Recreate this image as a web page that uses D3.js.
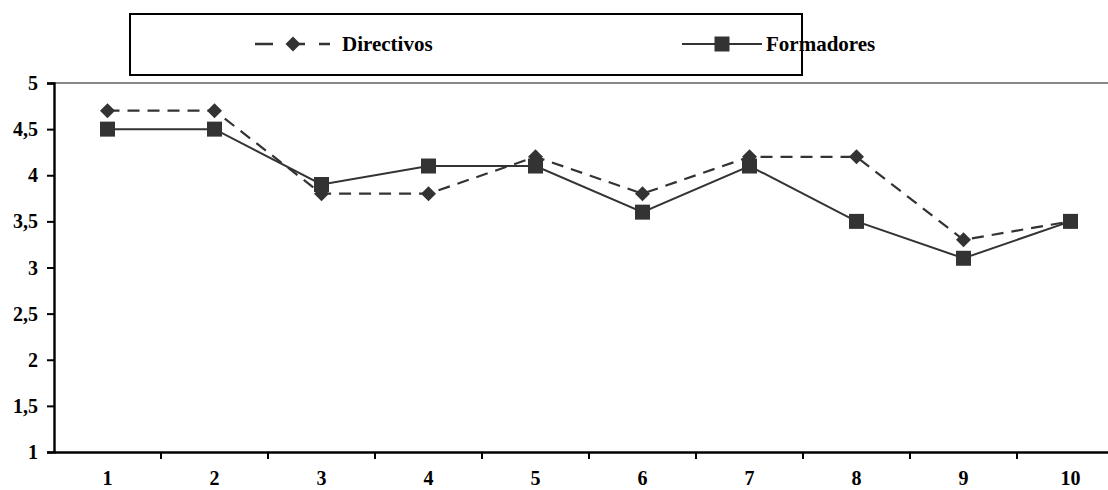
<!DOCTYPE html>
<html><head><meta charset="utf-8">
<script src="https://cdn.jsdelivr.net/npm/d3@7"></script>
<style>body{margin:0;background:#fff}svg{display:block}</style>
</head><body>
<script>
const categories = ["1","2","3","4","5","6","7","8","9","10"];
const directivos = [4.7, 4.7, 3.8, 3.8, 4.2, 3.8, 4.2, 4.2, 3.3, 3.5];
const formadores = [4.5, 4.5, 3.9, 4.1, 4.1, 3.6, 4.1, 3.5, 3.1, 3.5];
const yTicks = [1, 1.5, 2, 2.5, 3, 3.5, 4, 4.5, 5];
const seriesNames = ["Directivos", "Formadores"];

(function () {
const W = 1108, H = 490;
const FF = "'Liberation Serif', 'Times New Roman', serif";
const svg = d3.select("body").append("svg").attr("width", W).attr("height", H);
const pL = 54, pR = 1124, pT = 83, pB = 452;
const x = d3.scaleBand().domain(categories).range([pL, pR]);
const y = d3.scaleLinear().domain([1, 5]).range([pB, pT]);
const col = "#333";
const FS = 20;

svg.append("line").attr("x1", pL).attr("x2", W).attr("y1", pT).attr("y2", pT)
  .attr("stroke", "#888").attr("stroke-width", 2);

const ya = svg.append("g").attr("transform", `translate(${pL},0)`)
  .call(d3.axisLeft(y).tickValues(yTicks).tickSize(7).tickPadding(9)
    .tickFormat(d => String(d).replace(".", ",")));
ya.select(".domain").attr("stroke", "#000").attr("stroke-width", 2.4);
ya.selectAll(".tick line").attr("stroke", "#000").attr("stroke-width", 2);
ya.selectAll("text").style("font-family", FF).style("font-weight", "bold")
  .style("font-size", FS + "px").attr("fill", "#000").attr("dy", "0.33em");

const xa = svg.append("g").attr("transform", `translate(0,${pB})`)
  .call(d3.axisBottom(x).tickSize(0).tickPadding(19));
xa.select(".domain").attr("stroke", "#000").attr("stroke-width", 2.4);
xa.selectAll("text").style("font-family", FF).style("font-weight", "bold")
  .style("font-size", FS + "px").attr("fill", "#000");
svg.append("g").selectAll("line").data(categories.slice(1)).join("line")
  .attr("x1", d => x(d)).attr("x2", d => x(d))
  .attr("y1", pB).attr("y2", pB + 7)
  .attr("stroke", "#000").attr("stroke-width", 2);

const cx = d => x(d) + x.bandwidth() / 2;
const line = d3.line().x((d, i) => cx(categories[i])).y(d => y(d));

svg.append("path").datum(formadores).attr("d", line).attr("fill", "none")
  .attr("stroke", col).attr("stroke-width", 2);
svg.append("path").datum(directivos).attr("d", line).attr("fill", "none")
  .attr("stroke", col).attr("stroke-width", 2.2).attr("stroke-dasharray", "12,8");

const sq = d3.symbol().type(d3.symbolSquare).size(225);
const dm = d3.symbol().type(d3.symbolSquare).size(112);
svg.append("g").selectAll("path").data(formadores).join("path")
  .attr("d", sq).attr("fill", col)
  .attr("transform", (d, i) => `translate(${cx(categories[i])},${y(d)})`);
svg.append("g").selectAll("path").data(directivos).join("path")
  .attr("d", dm).attr("fill", col)
  .attr("transform", (d, i) => `translate(${cx(categories[i])},${y(d)}) rotate(45)`);

const lg = svg.append("g");
lg.append("rect").attr("x", 130).attr("y", 14).attr("width", 672).attr("height", 61)
  .attr("fill", "#fff").attr("stroke", "#000").attr("stroke-width", 2);
const ly = 44;
lg.append("line").attr("x1", 255).attr("x2", 330).attr("y1", ly).attr("y2", ly)
  .attr("stroke", col).attr("stroke-width", 2.4).attr("stroke-dasharray", "18,14");
lg.append("path").attr("d", dm).attr("fill", col).attr("transform", `translate(293,${ly}) rotate(45)`);
lg.append("text").attr("x", 342).attr("y", ly + 7).text(seriesNames[0])
  .style("font-family", FF).style("font-weight", "bold").style("font-size", "21px");
lg.append("line").attr("x1", 682).attr("x2", 762).attr("y1", ly).attr("y2", ly)
  .attr("stroke", col).attr("stroke-width", 2);
lg.append("path").attr("d", sq).attr("fill", col).attr("transform", `translate(722,${ly})`);
lg.append("text").attr("x", 766).attr("y", ly + 7).text(seriesNames[1])
  .style("font-family", FF).style("font-weight", "bold").style("font-size", "21px");
})();
</script>
</body></html>
